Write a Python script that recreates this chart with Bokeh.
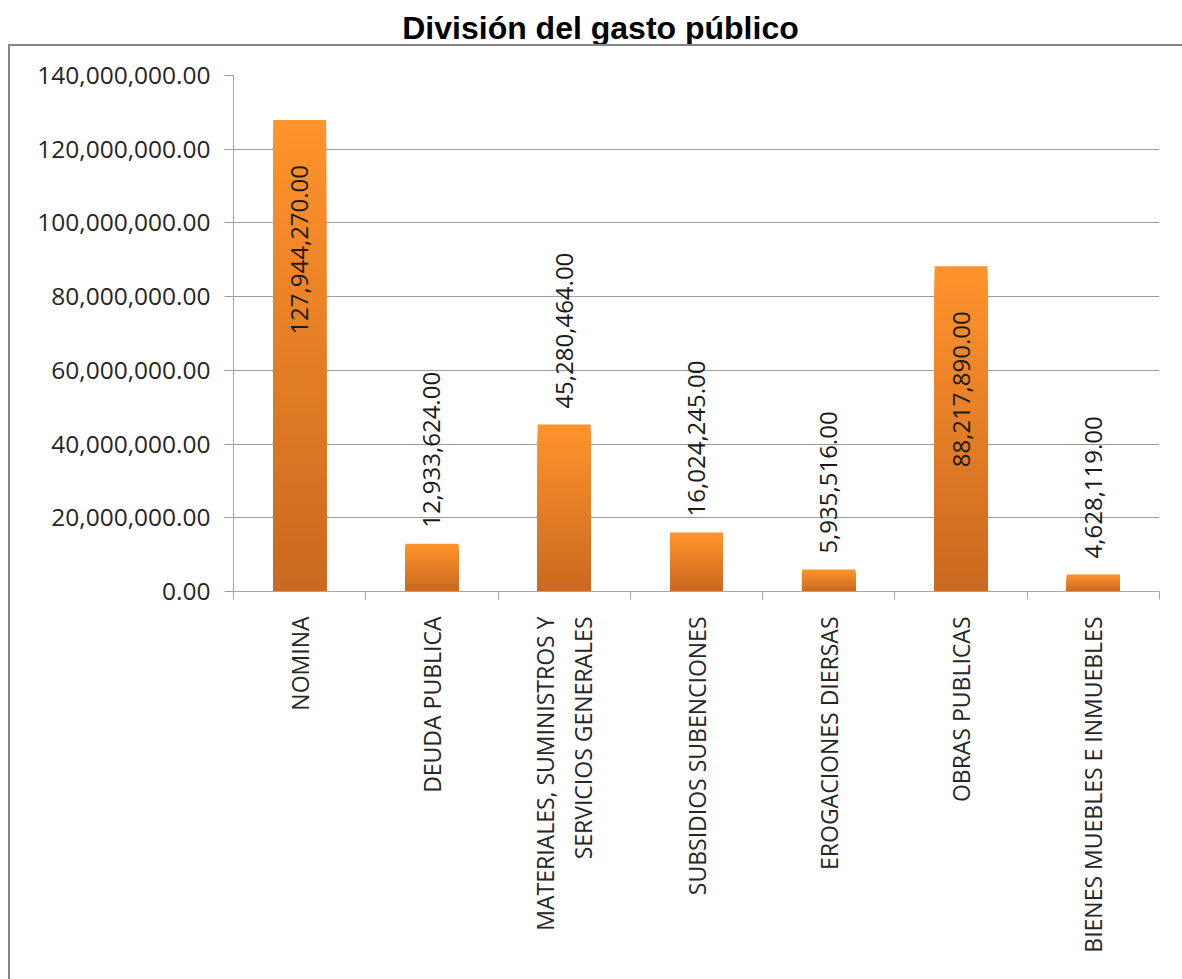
import math
from bokeh.plotting import figure
from bokeh.layouts import column
from bokeh.models import Range1d, FixedTicker, NumeralTickFormatter, ColumnDataSource
from bokeh.core.properties import value
from bokeh.embed import file_html
from bokeh.resources import INLINE

categories = ["NOMINA", "DEUDA PUBLICA", "MATERIALES, SUMINISTROS Y\nSERVICIOS GENERALES",
              "SUBSIDIOS SUBENCIONES", "EROGACIONES DIERSAS", "OBRAS PUBLICAS",
              "BIENES MUEBLES E INMUEBLES"]
gasto = [127944270.00, 12933624.00, 45280464.00, 16024245.00, 5935516.00, 88217890.00, 4628119.00]
y_ticks = [0, 20000000, 40000000, 60000000, 80000000, 100000000, 120000000, 140000000]

TITLE = "División del gasto público"
FONT = "Open Sans"
n = len(categories)
ymax = y_ticks[-1]

# ---- title strip (its frame is aligned with the chart frame by the column layout,
#      so its x range is expressed in page pixels of that frame) ----
t = figure(width=1182, height=44, toolbar_location=None, output_backend="svg",
           x_axis_type=None, y_axis_type=None, min_border=0,
           x_range=Range1d(233, 1159), y_range=Range1d(0, 44))
t.outline_line_color = None
t.grid.visible = False
t.text(x=[600], y=[17], text=[TITLE], text_align="center", text_baseline="middle",
       text_font=value("Liberation Sans"), text_font_style="bold", text_font_size="32px",
       text_color="#000000")

# ---- main chart ----
p = figure(width=1182, height=935, toolbar_location=None, output_backend="svg",
           x_range=Range1d(0, n), y_range=Range1d(0, ymax),
           min_border_left=233, min_border_right=23, min_border_top=31, min_border_bottom=388)
# chart-area frame line (left and top edges, the rest is cut off in the original)
p.border_fill_color = None
p.background_fill_color = "white"
p.styles = {
    "background-color": "white",
    "background-image": "linear-gradient(#868686, #868686), linear-gradient(#868686, #868686)",
    "background-size": "2px 100%, 100% 2px",
    "background-position": "8px 0px, 8px 0px",
    "background-repeat": "no-repeat",
}
p.outline_line_color = None
p.xgrid.grid_line_color = None
p.ygrid.grid_line_color = "#9C9C9C"
p.ygrid.grid_line_width = 1

# gradient bars: stacked overlapping quads from bottom, tallest drawn first (brightest)
top_rgb = (255, 147, 44)
bot_rgb = (201, 104, 31)
N = 48
lefts, rights, bottoms, tops, colors = [], [], [], [], []
for k in range(N, 0, -1):
    f = k / N
    c = tuple(int(round(bot_rgb[j] + (top_rgb[j] - bot_rgb[j]) * f)) for j in range(3))
    col = "#%02x%02x%02x" % c
    for i, v in enumerate(gasto):
        lefts.append(i + 0.5 - 0.2)
        rights.append(i + 0.5 + 0.2)
        bottoms.append(0)
        tops.append(v * f)
        colors.append(col)
p.quad(left=lefts, right=rights, bottom=bottoms, top=tops, fill_color=colors, line_color=None)

# data labels
lab = [f"{v:,.2f}" for v in gasto]
inside = [v > 0.6 * ymax for v in gasto]
src_out = ColumnDataSource(dict(x=[i + 0.5 for i in range(n) if not inside[i]],
                                y=[gasto[i] for i in range(n) if not inside[i]],
                                t=[lab[i] for i in range(n) if not inside[i]]))
src_in = ColumnDataSource(dict(x=[i + 0.5 for i in range(n) if inside[i]],
                               y=[gasto[i] for i in range(n) if inside[i]],
                               t=[lab[i] for i in range(n) if inside[i]]))
p.text(x="x", y="y", text="t", source=src_out, angle=math.pi / 2, text_align="left",
       text_baseline="middle", y_offset=-16, text_font=value(FONT), text_font_size="24px",
       text_color="#1a1a1a")
p.text(x="x", y="y", text="t", source=src_in, angle=math.pi / 2, text_align="right",
       text_baseline="middle", y_offset=45, text_font=value(FONT), text_font_size="24px",
       text_color="#1a1a1a")

# y axis
ya = p.yaxis[0]
ya.ticker = FixedTicker(ticks=y_ticks)
ya.formatter = NumeralTickFormatter(format="0,0.00")
ya.major_tick_out = 9
ya.major_tick_in = 0
ya.minor_tick_out = 0
ya.minor_tick_in = 0
ya.major_tick_line_color = "#9C9C9C"
ya.axis_line_color = "#A6A6A6"
ya.major_label_standoff = 14
ya.major_label_text_font = FONT
ya.major_label_text_font_size = "24.5px"
ya.major_label_text_color = "#262626"

# x axis
xa = p.xaxis[0]
xa.ticker = FixedTicker(ticks=[i + 0.5 for i in range(n)], minor_ticks=list(range(n + 1)))
xa.major_label_overrides = {i + 0.5: categories[i] for i in range(n)}
xa.major_tick_out = 0
xa.major_tick_in = 0
xa.minor_tick_out = 8
xa.minor_tick_in = 0
xa.minor_tick_line_color = "#A6A6A6"
xa.axis_line_color = "#A6A6A6"
xa.major_label_orientation = math.pi / 2
xa.major_label_standoff = 17
xa.major_label_text_font = FONT
xa.major_label_text_font_size = "23px"
xa.major_label_text_color = "#262626"

layout = column(t, p)
open("out.html", "w").write(file_html(layout, INLINE))
